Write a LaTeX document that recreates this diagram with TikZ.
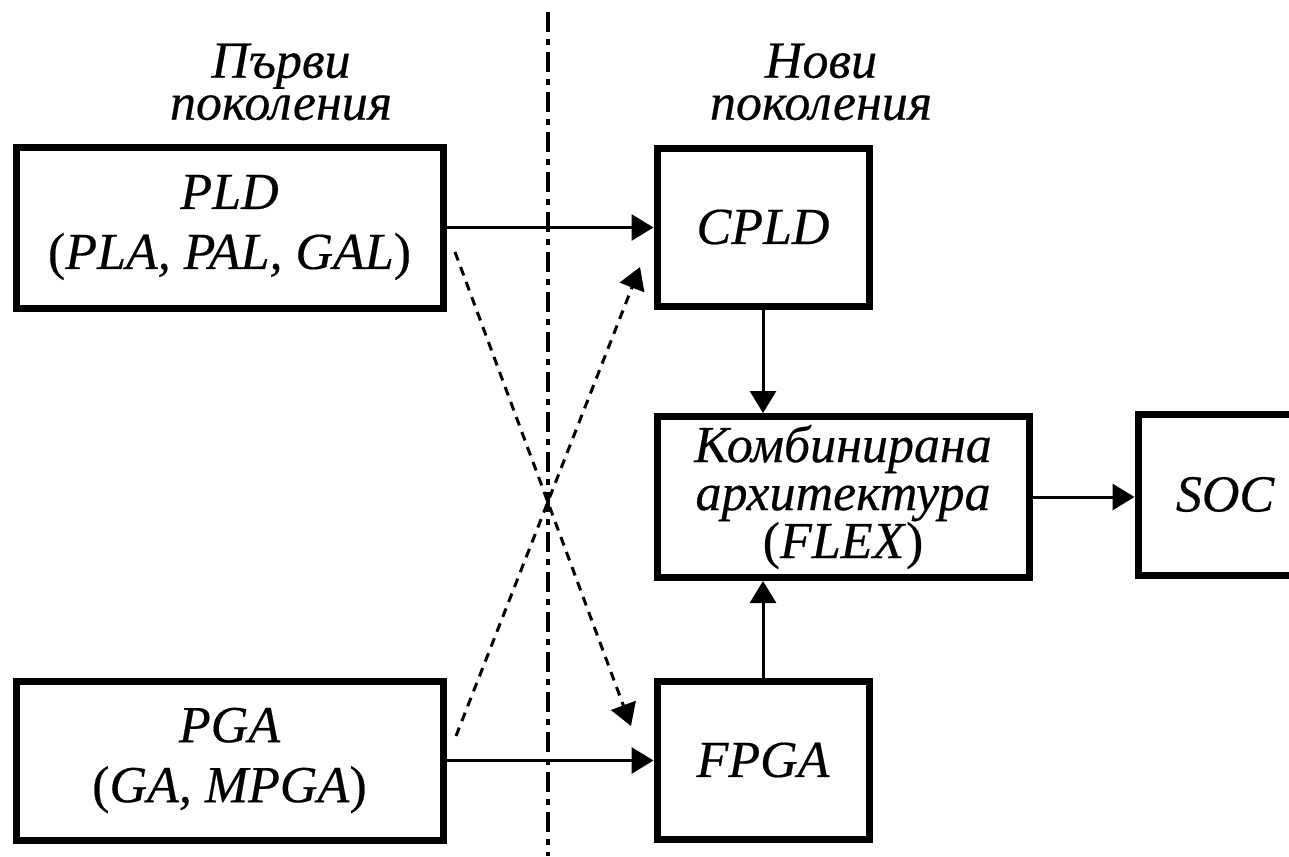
\documentclass[tikz,border=0pt]{standalone}
\usepackage{fontspec}
\setmainfont{Liberation Serif}
\newfontfamily\lblfont{Liberation Serif}[FakeBold=0.4]
\usetikzlibrary{arrows.meta,calc}
\newcommand{\up}[1]{\textup{#1}}
\begin{document}
\begin{tikzpicture}[x=0.5pt,y=-0.5pt,
  blk/.style={draw,line width=3.5pt,inner sep=0pt,align=center,
    font=\lblfont\fontsize{26}{30}\selectfont\itshape},
  head/.style={inner sep=0pt,align=center,font=\lblfont\fontsize{26}{21}\selectfont\itshape},
  flow/.style={line width=1.5pt,-{Triangle[length=11pt,width=13pt]}},
  cross/.style={flow,dash pattern=on 4.5pt off 3.5pt},
  divider/.style={line width=1.7pt,dash pattern=on 10pt off 3.5pt on 3pt off 3.5pt}]
\useasboundingbox (0,0) rectangle (1289,856);
\clip (0,0) rectangle (1289,856);

% column headings
\node[head] (hl) at (281,82) {Първи\\поколения};
\node[head] (hr) at (821,82) {Нови\\поколения};

% blocks
\node[blk,minimum width=213.5pt,minimum height=80.5pt] (pld) at (229.5,227.5)
  {PLD\\\up{(}PLA, PAL, GAL\up{)}};
\node[blk,minimum width=213.5pt,minimum height=79.5pt] (pga) at (229.5,760.5)
  {PGA\\\up{(}GA, MPGA\up{)}};
\node[blk,minimum width=106pt,minimum height=79pt] (cpld) at (763,227) {CPLD};
\node[blk,minimum width=106pt,minimum height=79pt] (fpga) at (763,760) {FPGA};
\node[blk,minimum width=186pt,minimum height=80.5pt,
  font=\lblfont\fontsize{26}{24}\selectfont\itshape] (comb) at (843,497)
  {Комбинирана\\архитектура\\\up{(}FLEX\up{)}};
\node[blk,minimum width=87pt,minimum height=80.5pt] (soc) at (1225,494.5) {SOC};

% generation divider
\draw[divider] (548,12) -- (548,856);

% solid flows
\draw[flow] (pld.east) -- (pld.east -| cpld.west);
\draw[flow] (pga.east) -- (pga.east -| fpga.west);
\draw[flow] (cpld.south) -- (cpld.south |- comb.north);
\draw[flow] (fpga.north) -- (fpga.north |- comb.south);
\draw[flow] (comb.east) -- (comb.east -| soc.west);

% crossing dashed flows
\coordinate (c1s) at ([shift={(8.5,24.5)}]pld.east);
\coordinate (c1e) at ([shift={(-22.5,-34)}]fpga.west);
\coordinate (c2s) at ([shift={(9.5,-24.5)}]pga.east);
\coordinate (c2e) at ([shift={(-13.5,40)}]cpld.west);
\draw[cross] (c1s) -- (c1e);
\draw[cross] (c2s) -- (c2e);
\end{tikzpicture}
\end{document}
